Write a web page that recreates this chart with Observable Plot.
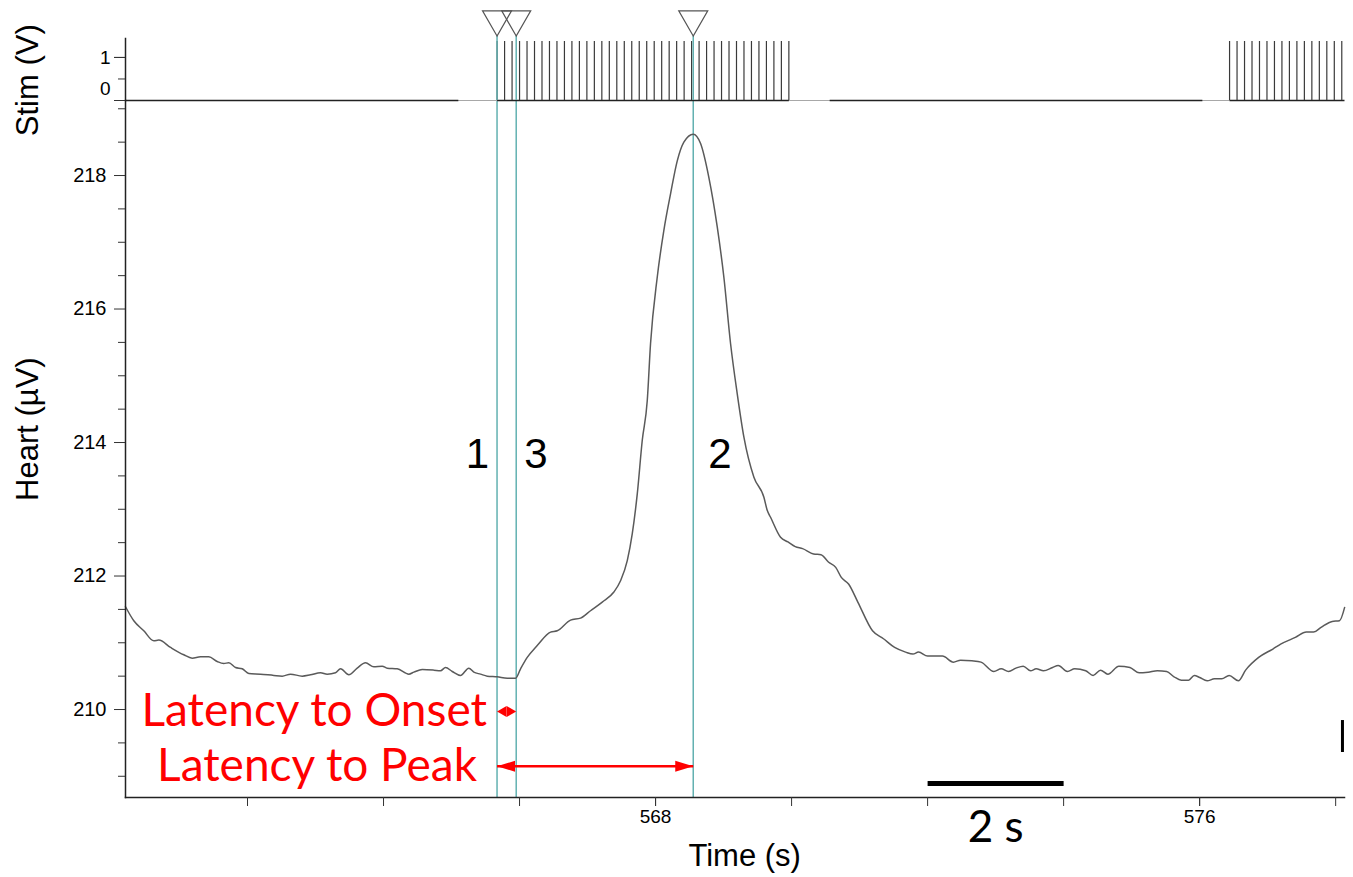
<!DOCTYPE html>
<html><head><meta charset="utf-8">
<script src="https://cdn.jsdelivr.net/npm/d3@7"></script>
<script src="https://cdn.jsdelivr.net/npm/@observablehq/plot@0.6"></script>
<style>
body{margin:0;background:#fff}
#wrap{position:relative;width:1353px;height:877px;overflow:hidden}
#wrap svg{position:absolute;left:0;top:0;overflow:visible}
</style>
</head><body><div id="wrap"></div>
<script>
// ---- data ----
const heartTime = [560.206,560.328,560.475,560.622,560.696,560.868,561.063,561.187,561.309,561.431,
561.554,561.651,561.725,561.824,561.922,562.019,562.191,562.387,562.510,562.632,
562.804,562.926,563.074,563.172,563.294,563.368,563.490,563.613,563.735,563.857,
563.981,564.054,564.201,564.372,564.446,564.569,564.740,564.838,564.912,565.010,
565.132,565.254,565.328,565.426,565.525,565.672,565.819,565.941,566.015,566.113,
566.260,566.456,566.554,566.750,566.897,567.044,567.216,567.387,567.485,567.584,
567.657,567.731,567.804,567.878,567.926,568.025,568.122,568.221,568.319,568.416,
568.554,568.662,568.784,568.907,569.004,569.103,569.201,569.299,569.446,569.593,
569.643,569.691,569.838,569.947,570.054,570.162,570.324,570.432,570.541,570.649,
570.731,570.838,570.974,571.190,571.351,571.515,571.676,571.785,571.866,572.000,
572.218,572.379,572.485,572.650,572.785,572.974,573.082,573.190,573.299,573.406,
573.515,573.596,573.704,573.838,573.921,574.056,574.163,574.325,574.434,574.543,
574.650,574.812,574.975,575.110,575.244,575.379,575.515,575.624,575.731,575.838,
575.921,576.001,576.110,576.218,576.326,576.434,576.569,576.676,576.868,577.082,
577.191,577.407,577.569,577.676,577.785,577.949,578.056,578.132];
const heartValue = [211.54,211.33,211.18,211.03,211.04,210.93,210.82,210.77,210.79,210.79,
210.72,210.69,210.70,210.63,210.61,210.54,210.53,210.51,210.50,210.53,
210.50,210.52,210.55,210.53,210.55,210.61,210.52,210.62,210.70,210.64,
210.65,210.62,210.61,210.53,210.56,210.60,210.59,210.58,210.63,210.57,
210.51,210.62,210.56,210.53,210.50,210.49,210.47,210.47,210.61,210.78,
210.96,211.16,211.18,211.34,211.37,211.48,211.61,211.76,211.93,212.23,
212.63,213.23,214.03,214.63,215.48,216.48,217.18,217.73,218.22,218.50,
218.62,218.48,217.97,217.23,216.48,215.48,214.73,214.08,213.48,213.18,
212.98,212.88,212.58,212.51,212.44,212.41,212.33,212.32,212.21,212.13,
211.98,211.88,211.61,211.18,211.06,210.93,210.86,210.83,210.86,210.80,
210.80,210.71,210.74,210.73,210.71,210.57,210.61,210.57,210.62,210.65,
210.58,210.61,210.58,210.63,210.66,210.57,210.61,210.58,210.51,210.59,
210.53,210.65,210.63,210.55,210.56,210.58,210.57,210.49,210.44,210.44,
210.51,210.48,210.43,210.46,210.46,210.51,210.43,210.59,210.78,210.91,
210.98,211.08,211.16,211.16,211.23,211.32,211.33,211.53];

const pulseTimes1 = [565.67,565.78,565.89,566.00,566.11,566.22,566.33,566.44,566.55,566.66,
566.77,566.88,566.99,567.10,567.21,567.32,567.43,567.54,567.65,567.76,
567.87,567.98,568.09,568.20,568.31,568.42,568.53,568.64,568.75,568.86,
568.97,569.08,569.19,569.30,569.41,569.52,569.63,569.74,569.85,569.96];
const pulseTimes2 = [576.44,576.55,576.66,576.77,576.88,576.99,577.10,577.21,577.32,577.43,
577.54,577.65,577.76,577.87,577.98,578.09];
const pulseHeight = 1.37;
const stimDarkStart = [560.206, 565.67, 570.56, 576.44];
const stimDarkEnd   = [565.10, 569.96, 576.04, 578.13];

const markerIds = ["1", "3", "2"];
const markerTimes = [565.669, 565.951, 568.554];

const latencyLabels = ["Latency to Onset", "Latency to Peak"];
const latencyFrom = ["1", "1"];
const latencyTo = ["3", "2"];
const latencyLevel = [209.97, 209.15];

const heartMajorTicks = [210, 212, 214, 216, 218];
const heartMinorTicks = [209, 209.5, 210.5, 211, 211.5, 212.5, 213, 213.5, 214.5, 215, 215.5, 216.5, 217, 217.5, 218.5, 219];
const timeTicks = [562, 564, 566, 568, 570, 572, 574, 576, 578];
const timeTickLabels = [568, 576];
const stimMajorTicks = [0, 1];
const stimMinorTicks = [0.5];

const scaleBar = {from: 572, to: 574, level: 208.89, label: "2 s"};
const artifact = {t: 578.10, lo: 209.356, hi: 209.835};

// ---- tables ----
const heart = heartTime.map((t, i) => ({t, v: heartValue[i]}));
const markers = markerIds.map((id, i) => ({id, t: markerTimes[i]}));
const mt = Object.fromEntries(markers.map(m => [m.id, m.t]));
const latencies = latencyLabels.map((label, i) => ({label, a: mt[latencyFrom[i]], b: mt[latencyTo[i]], y: latencyLevel[i]}));
const pulses = [...pulseTimes1, ...pulseTimes2];
const darkSegs = stimDarkStart.map((a, i) => ({a, b: stimDarkEnd[i]}));

const X_DOMAIN = [560.206, 578.13];
const CYAN = "#62b1b1";
const RED = "#ff0000";
const FONT = "'Liberation Sans', Arial, sans-serif";
const CAL = "Lato, 'Open Sans', sans-serif";
const intFmt = d => String(d);

// custom filled arrowheads (tip at the point, pointing right)
const headLong = {draw(ctx) { ctx.moveTo(0, 0); ctx.lineTo(-18, -5.5); ctx.lineTo(-18, 5.5); ctx.closePath(); }};
const headShort = {draw(ctx) { ctx.moveTo(0, 0); ctx.lineTo(-9.5, -5.5); ctx.lineTo(-9.5, 5.5); ctx.closePath(); }};

const onset = latencies[0], peak = latencies[1];

const heartPlot = Plot.plot({
  width: 1353, height: 877,
  marginTop: 100, marginBottom: 80, marginLeft: 125, marginRight: 9,
  style: {overflow: "visible", fontFamily: FONT, background: "transparent", color: "#000"},
  x: {domain: X_DOMAIN, axis: null},
  y: {domain: [208.682, 219.124], axis: null},
  marks: [
    Plot.ruleX(markers, {x: "t", stroke: CYAN, strokeWidth: 1.5}),
    Plot.line(heart, {x: "t", y: "v", stroke: "#5a5a5a", strokeWidth: 1.5, curve: "monotone-x"}),
    Plot.frame({anchor: "left", stroke: "#222", strokeWidth: 1.5}),
    Plot.frame({anchor: "bottom", stroke: "#222", strokeWidth: 1.5}),
    Plot.axisY({ticks: heartMajorTicks, tickSize: 11, tickPadding: 8, tickFormat: intFmt, fontSize: 20, label: null, anchor: "left", stroke: "#333"}),
    Plot.axisY({ticks: heartMinorTicks, tickSize: 7, tickFormat: () => "", label: null, anchor: "left", stroke: "#333"}),
    Plot.axisX({ticks: timeTicks, tickSize: 9, tickFormat: () => "", label: null, anchor: "bottom", stroke: "#333"}),
    Plot.axisX({ticks: timeTickLabels, tickSize: 9, tickPadding: 3, tickFormat: intFmt, fontSize: 19, label: null, anchor: "bottom", stroke: "#333"}),
    Plot.text(["Time (s)"], {x: () => 569.31, frameAnchor: "bottom", lineAnchor: "middle", dy: 59, fontSize: 31, fill: "#000"}),
    Plot.text(["Heart (µV)"], {y: () => 214.2, frameAnchor: "left", textAnchor: "middle", lineAnchor: "middle", dx: -97, rotate: -90, fontSize: 31, fill: "#000"}),
    // scale bar
    Plot.link([scaleBar], {x1: "from", x2: "to", y1: "level", y2: "level", stroke: "#000", strokeWidth: 5}),
    Plot.text([scaleBar], {x: d => (d.from + d.to) / 2, text: "label", frameAnchor: "bottom", lineAnchor: "middle", dy: 30, fontSize: 44, fontFamily: CAL, fill: "#000"}),
    // artifact at right edge
    Plot.ruleX([artifact], {x: "t", y1: "lo", y2: "hi", stroke: "#000", strokeWidth: 3}),
    // marker number labels
    Plot.text([markers[0]], {x: "t", y: () => 213.82, text: "id", textAnchor: "end", dx: -8, fontSize: 42, fill: "#000"}),
    Plot.text([markers[1]], {x: "t", y: () => 213.82, text: "id", textAnchor: "start", dx: 8, fontSize: 42, fill: "#000"}),
    Plot.text([markers[2]], {x: "t", y: () => 213.82, text: "id", textAnchor: "start", dx: 15, fontSize: 42, fill: "#000"}),
    // latency annotations
    Plot.text([onset], {x: "a", y: "y", text: "label", textAnchor: "end", dx: -10, fontSize: 46, fontFamily: CAL, fill: RED}),
    Plot.text([peak], {x: "a", y: "y", text: "label", textAnchor: "end", dx: -20, fontSize: 46, fontFamily: CAL, fill: RED}),
    Plot.link([peak], {x1: "a", x2: "b", y1: "y", y2: "y", stroke: RED, strokeWidth: 2.5}),
    Plot.dot([peak], {x: "b", y: "y", symbol: headLong, fill: RED, stroke: "none"}),
    Plot.dot([peak], {x: "a", y: "y", symbol: headLong, rotate: 180, fill: RED, stroke: "none"}),
    Plot.dot([onset], {x: "b", y: "y", symbol: headShort, fill: RED, stroke: "none"}),
    Plot.dot([onset], {x: "a", y: "y", symbol: headShort, rotate: 180, fill: RED, stroke: "none"})
  ]
});

const stimPlot = Plot.plot({
  width: 1353, height: 110,
  marginTop: 38, marginBottom: 10, marginLeft: 125, marginRight: 9,
  style: {overflow: "visible", fontFamily: FONT, background: "transparent", color: "#000"},
  x: {domain: X_DOMAIN, axis: null},
  y: {domain: [0, 1.44], axis: null},
  marks: [
    Plot.ruleY([0], {stroke: "#a8a8a8", strokeWidth: 1.2}),
    Plot.link(darkSegs, {x1: "a", x2: "b", y1: () => 0, y2: () => 0, stroke: "#222", strokeWidth: 1.3}),
    Plot.ruleX(pulses, {y1: () => 0, y2: () => pulseHeight, stroke: "#3a3a3a", strokeWidth: 1.2}),
    Plot.ruleX(markers, {x: "t", y1: () => 0, y2: () => 1.5, stroke: CYAN, strokeWidth: 1.5}),
    Plot.dot(markers, {x: "t", y: () => 1.887, symbol: "triangle", rotate: 180, r: 10.76, fill: "none", stroke: "#555", strokeWidth: 1.2}),
    Plot.frame({anchor: "left", stroke: "#222", strokeWidth: 1.5}),
    Plot.axisY({ticks: stimMajorTicks, tickSize: 11, tickFormat: () => "", label: null, anchor: "left", stroke: "#333"}),
    Plot.axisY({ticks: stimMinorTicks, tickSize: 7, tickFormat: () => "", label: null, anchor: "left", stroke: "#333"}),
    Plot.axisY({ticks: [1], tickSize: 11, tickPadding: 4, tickFormat: intFmt, fontSize: 19, label: null, anchor: "left", stroke: "#333"}),
    Plot.axisY({ticks: [0], tickSize: 0, tickPadding: 15, tickFormat: intFmt, dy: -12, fontSize: 19, label: null, anchor: "left"}),
    Plot.text(["Stim (V)"], {y: () => 0.47, frameAnchor: "left", textAnchor: "middle", lineAnchor: "middle", dx: -97, rotate: -90, fontSize: 31, fill: "#000"})
  ]
});

const wrap = document.getElementById("wrap");
wrap.appendChild(heartPlot);
wrap.appendChild(stimPlot);
</script>
</body></html>
